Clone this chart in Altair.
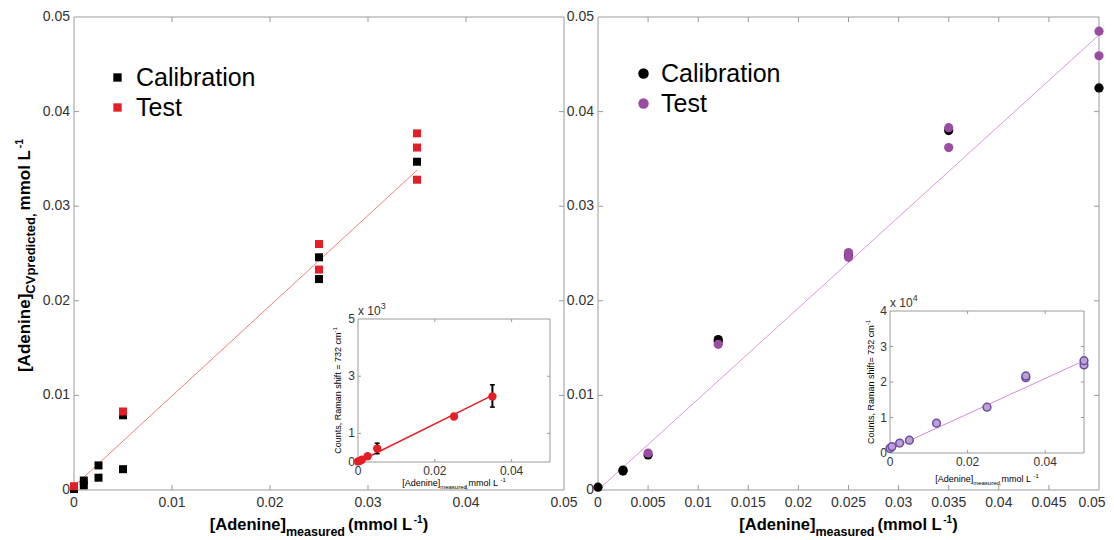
import altair as alt
import pandas as pd

# ---------------- data ----------------
# left panel (squares)
L_cal_x = [0.0, 0.001, 0.001, 0.0025, 0.0025, 0.005, 0.005, 0.025, 0.025, 0.035]
L_cal_y = [0.0001, 0.0010, 0.0005, 0.0026, 0.0013, 0.0022, 0.0079, 0.0246, 0.0223, 0.0347]
L_test_x = [0.0, 0.005, 0.025, 0.025, 0.035, 0.035, 0.035]
L_test_y = [0.0004, 0.0083, 0.0260, 0.0233, 0.0377, 0.0362, 0.0328]
L_fit_x = [0.0, 0.035]
L_fit_y = [0.0004, 0.0338]

# left inset
LI_x = [0.0, 0.0005, 0.001, 0.0025, 0.005, 0.025, 0.035]
LI_y = [20, 40, 80, 200, 470, 1590, 2290]
LI_err_x = [0.005, 0.035]
LI_err_lo = [290, 1920]
LI_err_hi = [660, 2700]
LI_fit_x = [0.0, 0.035]
LI_fit_y = [0, 2330]

# right panel (circles)
R_cal_x = [0.0, 0.0025, 0.0025, 0.005, 0.012, 0.012, 0.025, 0.035, 0.05]
R_cal_y = [0.0003, 0.0021, 0.0020, 0.0037, 0.0159, 0.0157, 0.0248, 0.0380, 0.0425]
R_test_x = [0.005, 0.012, 0.025, 0.025, 0.035, 0.035, 0.05, 0.05]
R_test_y = [0.0039, 0.0154, 0.0251, 0.0246, 0.0383, 0.0362, 0.0485, 0.0459]
R_fit_x = [0.0, 0.05]
R_fit_y = [0.0, 0.0481]

# right inset
RI_x = [0.0, 0.0005, 0.0025, 0.005, 0.012, 0.025, 0.035, 0.035, 0.05, 0.05]
RI_y = [1300, 1800, 2800, 3600, 8400, 12900, 21200, 21700, 24800, 26000]
RI_fit_x = [0.0, 0.05]
RI_fit_y = [1000, 26000]

# ticks and tick labels
L_xticks = [0, 0.01, 0.02, 0.03, 0.04, 0.05]
L_xlabels = ["0", "0.01", "0.02", "0.03", "0.04", "0.05"]
R_xticks = [0, 0.005, 0.01, 0.015, 0.02, 0.025, 0.03, 0.035, 0.04, 0.045, 0.05]
R_xlabels = ["0", "0.005", "0.01", "0.015", "0.02", "0.025", "0.03", "0.035", "0.04", "0.045", "0.05"]
M_yticks = [0, 0.01, 0.02, 0.03, 0.04, 0.05]
M_ylabels = ["0", "0.01", "0.02", "0.03", "0.04", "0.05"]
LI_xticks = [0, 0.02, 0.04]
LI_xlabels = ["0", "0.02", "0.04"]
LI_yticks = [0, 1000, 3000, 5000]
LI_ylabels = ["0", "1", "3", "5"]
RI_xticks = [0, 0.02, 0.04]
RI_xlabels = ["0", "0.02", "0.04"]
RI_yticks = [0, 10000, 20000, 30000, 40000]
RI_ylabels = ["0", "1", "2", "3", "4"]
series_names = ["Calibration", "Test"]

# ---------------- layout / style ----------------
FONT = "Liberation Sans"
W, H = 1098, 532
LX = [66, 556]
RX = [590, 1091]
MY = [482, 9]
LIX = [350, 542]
LIY = [454, 311]
RIX = [882, 1076]
RIY = [445, 303]
RED = "#e41e26"
PURPLE = "#9a4ca2"
GRAY = "#9a9a9a"
LABEL = "#333333"

AR = {' ': 278, '(': 333, ')': 333, ',': 278, '-': 333, '.': 278, '=': 584, '[': 278, ']': 278,
      'A': 667, 'C': 722, 'L': 556, 'R': 722, 'V': 667, 'a': 556, 'c': 500, 'd': 556, 'e': 556,
      'f': 278, 'h': 556, 'i': 222, 'l': 222, 'm': 833, 'n': 556, 'o': 556, 'p': 556, 'r': 333,
      's': 500, 't': 278, 'u': 556, 'x': 500}
AB = {' ': 278, '(': 333, ')': 333, ',': 278, '-': 333, '[': 333, ']': 333, 'A': 722, 'C': 722,
      'L': 611, 'V': 667, 'a': 556, 'c': 556, 'd': 611, 'e': 556, 'i': 278, 'l': 278, 'm': 889,
      'n': 611, 'o': 611, 'p': 611, 'r': 389, 's': 556, 't': 333, 'u': 611}


def tw(s, size, bold):
    t = AB if bold else AR
    return sum(t.get(c, 556) for c in s) * size / 1000.0


one = pd.DataFrame({"k": [0]})


def txt(s, x, y, size, bold=False, angle=0, color="#000000"):
    return alt.Chart(one).mark_text(
        text=s, font=FONT, fontSize=size, fontWeight="bold" if bold else "normal",
        angle=angle, align="left", baseline="alphabetic", color=color
    ).encode(x=alt.value(x), y=alt.value(y))


def rich(pieces, x0, y0, rotated=False, anchor="center", color="#000000"):
    widths = [tw(p[0], p[1], p[2]) + (p[4] if len(p) > 4 else 0) for p in pieces]
    total = sum(widths)
    out = []
    if not rotated:
        pos = x0 - total / 2 if anchor == "center" else x0
        for p, w in zip(pieces, widths):
            out.append(txt(p[0], pos, y0 + p[3], p[1], p[2], 0, color))
            pos += w
    else:
        pos = y0 + total / 2
        for p, w in zip(pieces, widths):
            out.append(txt(p[0], x0 + p[3], pos, p[1], p[2], 270, color))
            pos -= w
    return out


def sc(dom, rng):
    return alt.Scale(domain=dom, range=rng, nice=False, zero=False)


def frame(xr, yr, opaque=False):
    m = alt.Chart(one).mark_rect(stroke=GRAY, strokeWidth=1, fill="#ffffff",
                                 fillOpacity=1 if opaque else 0)
    return m.encode(x=alt.value(xr[0]), x2=alt.value(xr[1]), y=alt.value(yr[1]), y2=alt.value(yr[0]))


def inner_ticks(xvals, yvals, xs, ys, xr, yr, size=5):
    out = []
    xi = pd.DataFrame({"x": xvals})
    yi = pd.DataFrame({"y": yvals})
    for ypix in (yr[0] - size / 2, yr[1] + size / 2):
        out.append(alt.Chart(xi).mark_tick(size=size, thickness=1, color=GRAY, opacity=1).encode(
            x=alt.X("x:Q", scale=xs, axis=None), y=alt.value(ypix)))
    for xpix in (xr[0] + size / 2, xr[1] - size / 2):
        out.append(alt.Chart(yi).mark_tick(size=size, thickness=1, color=GRAY, opacity=1).encode(
            y=alt.Y("y:Q", scale=ys, axis=None), x=alt.value(xpix)))
    return out


def tick_labels(xvals, xlabels, yvals, ylabels, xs, ys, xr, yr, size, xpad, ypad, last_dx=0):
    out = []
    n = len(xvals) - (1 if last_dx else 0)
    out.append(alt.Chart(pd.DataFrame({"x": xvals[:n], "t": xlabels[:n]})).mark_text(
        font=FONT, fontSize=size, color=LABEL, align="center", baseline="top").encode(
        x=alt.X("x:Q", scale=xs, axis=None), y=alt.value(yr[0] + xpad), text="t:N"))
    if last_dx:
        out.append(alt.Chart(pd.DataFrame({"x": xvals[n:], "t": xlabels[n:]})).mark_text(
            font=FONT, fontSize=size, color=LABEL, align="center", baseline="top", dx=last_dx).encode(
            x=alt.X("x:Q", scale=xs, axis=None), y=alt.value(yr[0] + xpad), text="t:N"))
    out.append(alt.Chart(pd.DataFrame({"y": yvals, "t": ylabels})).mark_text(
        font=FONT, fontSize=size, color=LABEL, align="right", baseline="middle").encode(
        y=alt.Y("y:Q", scale=ys, axis=None), x=alt.value(xr[0] - ypad), text="t:N"))
    return out


# ---------------- left panel ----------------
lxs = sc([0, 0.05], LX)
lys = sc([0, 0.05], MY)
L_pts = pd.DataFrame({
    "x": L_cal_x + L_test_x, "y": L_cal_y + L_test_y,
    "series": [series_names[0]] * len(L_cal_x) + [series_names[1]] * len(L_test_x)})
left_main = alt.layer(
    frame(LX, MY),
    *inner_ticks(L_xticks[1:-1], M_yticks[1:-1], lxs, lys, LX, MY),
    *tick_labels(L_xticks, L_xlabels, M_yticks, M_ylabels, lxs, lys, LX, MY, 14, 6, 4),
    alt.Chart(pd.DataFrame({"x": L_fit_x, "y": L_fit_y})).mark_line(color="#f07c7c", strokeWidth=1).encode(
        x=alt.X("x:Q", scale=lxs, axis=None), y=alt.Y("y:Q", scale=lys, axis=None)),
    alt.Chart(L_pts).mark_square(size=64, opacity=1).encode(
        x=alt.X("x:Q", scale=lxs, axis=None),
        y=alt.Y("y:Q", scale=lys, axis=None),
        color=alt.Color("series:N", scale=alt.Scale(domain=series_names, range=["#000000", RED]),
                        legend=alt.Legend(orient="none", legendX=97, legendY=57, title=None,
                                          labelFont=FONT, labelFontSize=25, labelColor="#000000",
                                          symbolType="square", symbolSize=70, symbolStrokeWidth=0,
                                          symbolOpacity=1, rowPadding=4, labelOffset=6, padding=0))),
)

lixs = sc([0, 0.05], LIX)
liys = sc([0, 5000], LIY)
left_inset = alt.layer(
    frame(LIX, LIY, opaque=True),
    *inner_ticks([0.02, 0.04], [1000, 3000], lixs, liys, LIX, LIY, size=3),
    *tick_labels(LI_xticks, LI_xlabels, LI_yticks, LI_ylabels, lixs, liys, LIX, LIY, 12, 4, 3),
    alt.Chart(pd.DataFrame({"x": LI_fit_x, "y": LI_fit_y})).mark_line(color=RED, strokeWidth=1.5).encode(
        x=alt.X("x:Q", scale=lixs, axis=None), y=alt.Y("y:Q", scale=liys, axis=None)),
    alt.Chart(pd.DataFrame({"x": LI_err_x, "lo": LI_err_lo, "hi": LI_err_hi})).mark_rule(
        color="#000000", strokeWidth=2).encode(
        x=alt.X("x:Q", scale=lixs, axis=None), y=alt.Y("lo:Q", scale=liys, axis=None), y2="hi:Q"),
    alt.Chart(pd.DataFrame({"x": LI_err_x + LI_err_x, "y": LI_err_lo + LI_err_hi})).mark_tick(
        orient="horizontal", size=5, thickness=1.5, color="#000000", opacity=1).encode(
        x=alt.X("x:Q", scale=lixs, axis=None), y=alt.Y("y:Q", scale=liys, axis=None)),
    alt.Chart(pd.DataFrame({"x": LI_x, "y": LI_y})).mark_circle(size=70, color=RED, opacity=1).encode(
        x=alt.X("x:Q", scale=lixs, axis=None), y=alt.Y("y:Q", scale=liys, axis=None)),
)

# ---------------- right panel ----------------
rxs = sc([0, 0.05], RX)
rys = sc([0, 0.05], MY)
R_pts = pd.DataFrame({
    "x": R_cal_x + R_test_x, "y": R_cal_y + R_test_y,
    "series": [series_names[0]] * len(R_cal_x) + [series_names[1]] * len(R_test_x)})
right_main = alt.layer(
    frame(RX, MY),
    *inner_ticks(R_xticks[1:-1], M_yticks[1:-1], rxs, rys, RX, MY),
    *tick_labels(R_xticks, R_xlabels, M_yticks, M_ylabels, rxs, rys, RX, MY, 14, 6, 4, last_dx=-7),
    alt.Chart(pd.DataFrame({"x": R_fit_x, "y": R_fit_y})).mark_line(color="#d79ad8", strokeWidth=1).encode(
        x=alt.X("x:Q", scale=rxs, axis=None), y=alt.Y("y:Q", scale=rys, axis=None)),
    alt.Chart(R_pts).mark_circle(size=85, opacity=1).encode(
        x=alt.X("x:Q", scale=rxs, axis=None),
        y=alt.Y("y:Q", scale=rys, axis=None),
        color=alt.Color("series:N", scale=alt.Scale(domain=series_names, range=["#000000", PURPLE]),
                        legend=alt.Legend(orient="none", legendX=623, legendY=53, title=None,
                                          labelFont=FONT, labelFontSize=25, labelColor="#000000",
                                          symbolType="circle", symbolSize=110, symbolStrokeWidth=0,
                                          symbolOpacity=1, rowPadding=4, labelOffset=5, padding=0))),
)

rixs = sc([0, 0.05], RIX)
riys = sc([0, 40000], RIY)
right_inset = alt.layer(
    frame(RIX, RIY, opaque=True),
    *inner_ticks([0.02, 0.04], [10000, 20000, 30000], rixs, riys, RIX, RIY, size=3),
    *tick_labels(RI_xticks, RI_xlabels, RI_yticks, RI_ylabels, rixs, riys, RIX, RIY, 12, 4, 3),
    alt.Chart(pd.DataFrame({"x": RI_fit_x, "y": RI_fit_y})).mark_line(color="#d68ad2", strokeWidth=1).encode(
        x=alt.X("x:Q", scale=rixs, axis=None), y=alt.Y("y:Q", scale=riys, axis=None)),
    alt.Chart(pd.DataFrame({"x": RI_x, "y": RI_y})).mark_circle(
        size=60, color="#b9a1d8", stroke="#6f4c9f", strokeWidth=1.5, opacity=1).encode(
        x=alt.X("x:Q", scale=rixs, axis=None), y=alt.Y("y:Q", scale=riys, axis=None)),
)

# ---------------- titles (real text with sub/superscripts) ----------------
texts = []
texts += rich([("[Adenine]", 17, True, 0), ("CVpredicted,", 13, True, 5, 3),
               (" mmol L", 17, True, 0, -3), ("-1", 10.5, True, -7)],
              22, (MY[0] + MY[1]) / 2 + 2, rotated=True)
for cx in ((LX[0] + LX[1]) / 2, (RX[0] + RX[1]) / 2):
    texts += rich([("[Adenine]", 16.5, True, 0), ("measured", 12.5, True, 6, 3),
                   (" (mmol L", 16.5, True, 0, -3), ("-1", 10, True, -7), (")", 16.5, True, 0)],
                  cx, 522)
# left inset texts
texts += rich([("[Adenine]", 9, False, 0), ("measured,", 6, False, 3),
               (" mmol L", 9, False, 0), ("-1", 6, False, -4)],
              (LIX[0] + LIX[1]) / 2, LIY[0] + 24)
texts += rich([("Counts, Raman shift = 732 cm", 9, False, 0), ("-1", 6, False, -4)],
              LIX[0] - 17, (LIY[0] + LIY[1]) / 2, rotated=True)
texts += rich([("x 10", 12, False, 0), ("3", 9, False, -6)], LIX[0], LIY[1] - 4, anchor="start",
              color=LABEL)
# right inset texts
texts += rich([("[Adenine]", 9, False, 0), ("measured,", 6, False, 3),
               (" mmol L", 9, False, 0), ("-1", 6, False, -4)],
              (RIX[0] + RIX[1]) / 2, RIY[0] + 29)
texts += rich([("Counts, Raman shift= 732 cm", 9, False, 0), ("-1", 6, False, -4)],
              RIX[0] - 16, (RIY[0] + RIY[1]) / 2, rotated=True)
texts += rich([("x 10", 12, False, 0), ("4", 9, False, -6)], RIX[0], RIY[1] - 4, anchor="start",
              color=LABEL)

chart = alt.layer(
    left_main, left_inset, right_main, right_inset, *texts
).resolve_scale(
    x="independent", y="independent", color="independent"
).properties(
    width=W, height=H, autosize=alt.AutoSizeParams(type="none"), padding=0
).configure_view(stroke=None)

chart.save("out.html", embed_options={"renderer": "svg", "actions": False})
